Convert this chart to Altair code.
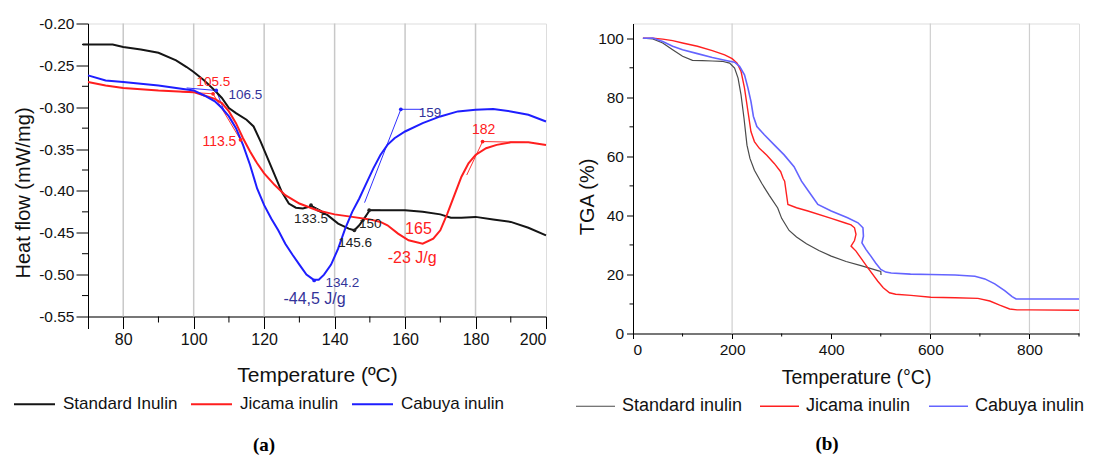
import altair as alt
import pandas as pd

FONT = "Liberation Sans"

# ---------------- Panel (a): DSC ----------------
series_a = ["Standard Inulin", "Jicama inulin", "Cabuya inulin"]
colors_a = ["#151515", "#ff1e1e", "#1e1eff"]

std_a_x = [68.5, 70, 77, 80, 85, 90, 95, 98, 100, 103, 106, 108, 110, 112, 115, 117, 119, 121, 123, 125, 127,
           129, 131, 133.5, 135, 138, 141, 144, 145.6, 147, 149, 150, 153, 160, 165, 170, 173, 176, 180, 185,
           190, 195, 200]
std_a_y = [-0.225, -0.225, -0.225, -0.228, -0.231, -0.235, -0.244, -0.252, -0.258, -0.268, -0.280, -0.289,
           -0.301, -0.307, -0.315, -0.323, -0.341, -0.361, -0.381, -0.401, -0.415, -0.420, -0.421, -0.418,
           -0.423, -0.429, -0.439, -0.445, -0.447, -0.441, -0.429, -0.423, -0.423, -0.423, -0.425, -0.428,
           -0.432, -0.432, -0.431, -0.434, -0.437, -0.444, -0.453]

jic_a_x = [70, 75, 80, 90, 100, 103, 106, 108, 110, 112, 114, 116, 118, 120, 123, 126, 130, 135, 140, 145, 150,
           153, 155, 158, 161, 165, 168, 170, 172, 174, 176, 178, 180, 183, 186, 190, 195, 200]
jic_a_y = [-0.270, -0.274, -0.277, -0.280, -0.282, -0.286, -0.290, -0.295, -0.305, -0.319, -0.337, -0.353,
           -0.367, -0.379, -0.393, -0.405, -0.415, -0.423, -0.428, -0.431, -0.434, -0.437, -0.441, -0.451,
           -0.459, -0.463, -0.457, -0.447, -0.427, -0.405, -0.383, -0.367, -0.357, -0.349, -0.345, -0.342,
           -0.342, -0.345]

cab_a_x = [70, 75, 80, 90, 100, 103, 106, 108, 110, 112, 114, 116, 118, 120, 122, 124, 126, 128, 130, 132, 134,
           135.5, 137, 139, 141, 143, 145, 147, 149, 151, 153, 155, 157, 160, 165, 170, 175, 180, 185, 190, 195,
           200]
cab_a_y = [-0.262, -0.268, -0.270, -0.274, -0.280, -0.286, -0.293, -0.301, -0.311, -0.325, -0.345, -0.369,
           -0.397, -0.417, -0.433, -0.447, -0.463, -0.476, -0.488, -0.500, -0.506, -0.506, -0.500, -0.488,
           -0.469, -0.445, -0.425, -0.409, -0.391, -0.373, -0.357, -0.345, -0.337, -0.329, -0.319, -0.311,
           -0.305, -0.303, -0.302, -0.305, -0.309, -0.317]

# construction (tangent) lines
seg_names = ["r1", "r2", "b1", "b2", "k1", "k2"]
seg_cols = ["#ff3030", "#ff3030", "#3030ff", "#3030ff", "#202020", "#202020"]
seg_x = [[96.5, 105.5, 113.3], [177.5, 182, 194], [98, 106.4, 108.7], [148.5, 158.8, 165],
         [133.3, 136.5], [148.2, 149.8, 153]]
seg_y = [[-0.2815, -0.284, -0.339], [-0.381, -0.341, -0.342], [-0.277, -0.280, -0.305],
         [-0.414, -0.3025, -0.3025], [-0.417, -0.424], [-0.437, -0.423, -0.423]]

mark_x = [105.5, 113.3, 182, 106.4, 134.2, 158.8, 133.3, 149.8, 145.6]
mark_y = [-0.284, -0.339, -0.341, -0.280, -0.507, -0.3025, -0.417, -0.423, -0.447]
mark_c = ["#ff2020", "#ff2020", "#ff2020", "#2020ff", "#2020ff", "#2020ff", "#202020", "#202020", "#202020"]

lab_t = ["105.5", "106.5", "113.5", "159", "182", "133.5", "150", "145.6", "165", "-23 J/g", "134.2", "-44,5 J/g"]
lab_x = [105.6, 114.7, 107.3, 167.1, 182.3, 133.3, 150.1, 145.8, 163.8, 162.0, 142.2, 134.3]
lab_y = [-0.270, -0.285, -0.341, -0.307, -0.327, -0.434, -0.439, -0.462, -0.445, -0.480, -0.510, -0.529]
lab_c = ["#ff2020", "#33339a", "#ff2020", "#33339a", "#ff2020", "#222222", "#222222", "#222222",
         "#ff2020", "#ff2020", "#33339a", "#33339a"]
lab_s = [13.5, 13.5, 14, 13.5, 14, 13.5, 13.5, 13.5, 16, 16, 13.5, 16]

grid_a = [80, 100, 120, 140, 160, 180]
xticks_a = [70, 80, 100, 120, 140, 160, 180, 200]
xminor_a = [90, 110, 130, 150, 170, 190]
yticks_a = [-0.55, -0.50, -0.45, -0.40, -0.35, -0.30, -0.25, -0.20]
yminor_a = [-0.525, -0.475, -0.425, -0.375, -0.325, -0.275, -0.225]

# ---------------- Panel (b): TGA ----------------
series_b = ["Standard inulin", "Jicama inulin", "Cabuya inulin"]
colors_b = ["#4a4a4a", "#ff2020", "#6464ff"]

std_b_x = [20, 40, 60, 80, 100, 120, 140, 160, 180, 195, 205, 212, 218, 224, 230, 236, 245, 260, 275, 292,
           300, 315, 330, 350, 375, 400, 430, 460, 494, 500, 500.5]
std_b_y = [100, 99.8, 98.4, 96.1, 93.9, 92.5, 92.4, 92.3, 92.2, 91.6, 89.9, 86.5, 80.8, 72.9, 63.8, 59.3,
           55.3, 50.8, 46.8, 42.5, 39.0, 34.9, 32.7, 30.4, 28.1, 26.2, 24.4, 23.0, 21.3, 21.0, 19.8]

jic_b_x = [20, 40, 60, 80, 100, 130, 160, 185, 200, 210, 218, 225, 232, 238, 245, 255, 270, 285, 298, 303,
           306, 312.6, 330, 353, 400, 427, 440, 447, 450, 447, 440, 450, 460, 474, 494, 505, 517.6, 530, 561,
           601, 650, 696, 720, 740, 760, 775, 800, 900]
jic_b_y = [100, 100, 99.7, 99.2, 98.4, 97.3, 95.8, 94.4, 93.1, 91.6, 88.8, 83.1, 75.2, 68.4, 65.0, 62.7, 60.4,
           57.6, 54.8, 52.5, 51.6, 43.7, 42.6, 41.5, 39.0, 37.5, 36.8, 35.8, 33.6, 31.5, 29.6, 27.9, 25.5,
           22.2, 17.7, 15.5, 13.8, 13.3, 12.9, 12.3, 12.1, 11.9, 11.0, 9.6, 8.3, 8.0, 8.0, 7.9]

cab_b_x = [20, 40, 60, 80, 100, 130, 160, 190, 205, 215, 225, 232, 238, 243, 250, 265, 285, 305, 325, 340,
           355, 373, 400, 433, 454, 464, 465, 462, 470, 480, 490, 500, 510, 521, 560, 600, 650, 690, 710, 730,
           750, 765, 773, 800, 900]
cab_b_y = [100, 100.1, 98.9, 97.3, 96.1, 94.8, 93.5, 92.4, 91.9, 90.5, 87.6, 83.1, 78.6, 73.5, 70.1, 67.3,
           63.9, 60.5, 56.5, 51.6, 48.0, 43.7, 41.5, 39.2, 37.5, 35.8, 33.0, 30.7, 28.5, 26.2, 23.8, 21.7, 20.8,
           20.5, 20.1, 20.0, 19.8, 19.4, 18.5, 16.8, 14.5, 12.5, 11.7, 11.7, 11.7]

grid_b = [200, 600, 800]
xticks_b = [0, 200, 400, 600, 800]
xminor_b = [100, 300, 500, 700, 900]
yticks_b = [0, 20, 40, 60, 80, 100]
yminor_b = [10, 30, 50, 70, 90]


def long_frame(names, xs_list, ys_list):
    rows = []
    for n, xs, ys in zip(names, xs_list, ys_list):
        for i, (x, y) in enumerate(zip(xs, ys)):
            rows.append({"series": n, "x": x, "y": y, "i": i})
    return pd.DataFrame(rows)


# ================= build panel (a) =================
WA, HA = 458, 293
xs_a = alt.Scale(domain=[70, 200], nice=False, zero=False)
ys_a = alt.Scale(domain=[-0.55, -0.20], nice=False, zero=False)

df_a = long_frame(series_a, [std_a_x, jic_a_x, cab_a_x], [std_a_y, jic_a_y, cab_a_y])

x_axis_a = alt.Axis(values=xticks_a, grid=False, tickSize=12, tickColor="black", domainColor="black",
                    labelExpr="datum.value == 70 ? '' : datum.label",
                    labelFontSize=16, labelFont=FONT, labelColor="#111", labelPadding=3,
                    title="Temperature (ºC)", titleFont=FONT, titleFontSize=21, titleFontWeight="normal",
                    titleColor="#111", titlePadding=17)
y_axis_a = alt.Axis(values=yticks_a, grid=False, tickSize=12, tickColor="black", domainColor="black",
                    labelExpr="replace(format(datum.value, '.2f'), '−', '-')",
                    labelFontSize=15.5, labelFont=FONT, labelColor="#111", labelPadding=2,
                    title="Heat flow (mW/mg)", titleFont=FONT, titleFontSize=20, titleFontWeight="normal",
                    titleColor="#111", titleX=-65, titleY=169, titleAlign="center", titleBaseline="middle",
                    titleAngle=270)

grid_layer_a = alt.Chart(pd.DataFrame({"g": grid_a})).mark_rule(color="#c8c8c8", strokeWidth=1.5).encode(
    x=alt.X("g:Q", scale=xs_a, axis=x_axis_a))

xminor_layer_a = alt.Chart(pd.DataFrame({"m": xminor_a})).mark_rule(color="black", strokeWidth=1).encode(
    x=alt.X("m:Q", scale=xs_a), y=alt.value(HA), y2=alt.value(HA + 6))
yminor_layer_a = alt.Chart(pd.DataFrame({"m": yminor_a})).mark_rule(color="black", strokeWidth=1).encode(
    y=alt.Y("m:Q", scale=ys_a, axis=y_axis_a), x=alt.value(0), x2=alt.value(-6))

lines_a = alt.Chart(df_a).mark_line(strokeWidth=2, clip=False).encode(
    x=alt.X("x:Q", scale=xs_a),
    y=alt.Y("y:Q", scale=ys_a),
    order="i:Q",
    color=alt.Color("series:N", scale=alt.Scale(domain=series_a, range=colors_a),
                    legend=alt.Legend(orient="none", legendX=-75, legendY=359, direction="horizontal",
                                      title=None, symbolType="stroke", symbolSize=1681, symbolStrokeWidth=2,
                                      labelFontSize=17, labelFont=FONT, labelColor="#111", labelOffset=7,
                                      columnPadding=9, labelLimit=300)))

seg_rows = []
for n, c, xs, ys in zip(seg_names, seg_cols, seg_x, seg_y):
    for i, (x, y) in enumerate(zip(xs, ys)):
        seg_rows.append({"seg": n, "c": c, "x": x, "y": y, "i": i})
segs_a = alt.Chart(pd.DataFrame(seg_rows)).mark_line(strokeWidth=1).encode(
    x=alt.X("x:Q", scale=xs_a), y=alt.Y("y:Q", scale=ys_a), detail="seg:N", order="i:Q",
    color=alt.Color("c:N", scale=None, legend=None))

marks_a = alt.Chart(pd.DataFrame({"x": mark_x, "y": mark_y, "c": mark_c})).mark_point(
    filled=True, size=14, opacity=1).encode(
    x=alt.X("x:Q", scale=xs_a), y=alt.Y("y:Q", scale=ys_a),
    color=alt.Color("c:N", scale=None, legend=None))

labels_a = alt.Chart(pd.DataFrame({"t": lab_t, "x": lab_x, "y": lab_y, "c": lab_c, "s": lab_s})).mark_text(
    font=FONT, align="center", baseline="middle").encode(
    x=alt.X("x:Q", scale=xs_a), y=alt.Y("y:Q", scale=ys_a), text="t:N",
    color=alt.Color("c:N", scale=None, legend=None),
    size=alt.Size("s:Q", scale=None, legend=None))

cap_a = alt.Chart(pd.DataFrame({"t": ["(a)"]})).mark_text(
    font="Liberation Serif", fontWeight="bold", fontSize=19, color="black", align="center",
    baseline="middle").encode(text="t:N", x=alt.value(176), y=alt.value(421))

panel_a = alt.layer(grid_layer_a, xminor_layer_a, yminor_layer_a, segs_a, lines_a, marks_a, labels_a,
                    cap_a).resolve_scale(color="independent").properties(width=WA, height=HA)

# ================= build panel (b) =================
WB, HB = 446, 310
xs_b = alt.Scale(domain=[0, 900], nice=False, zero=False)
ys_b = alt.Scale(domain=[0, 105], nice=False, zero=False)

df_b = long_frame(series_b, [std_b_x, jic_b_x, cab_b_x], [std_b_y, jic_b_y, cab_b_y])

x_axis_b = alt.Axis(values=xticks_b, grid=False, tickSize=5, tickColor="black", domainColor="black",
                    labelFontSize=15.5, labelFont=FONT, labelColor="#111", labelPadding=4,
                    title="Temperature (°C)", titleFont=FONT, titleFontSize=19.5, titleFontWeight="normal",
                    titleColor="#111", titlePadding=10)
y_axis_b = alt.Axis(values=yticks_b, grid=False, tickSize=6.5, tickColor="black", domainColor="black",
                    labelFontSize=15.5, labelFont=FONT, labelColor="#111", labelPadding=3,
                    title="TGA (%)", titleFont=FONT, titleFontSize=20, titleFontWeight="normal",
                    titleColor="#111", titleX=-46, titleY=173, titleAlign="center", titleBaseline="middle",
                    titleAngle=270)

grid_layer_b = alt.Chart(pd.DataFrame({"g": grid_b})).mark_rule(color="#cfcfcf", strokeWidth=1.2).encode(
    x=alt.X("g:Q", scale=xs_b, axis=x_axis_b))
xminor_layer_b = alt.Chart(pd.DataFrame({"m": xminor_b})).mark_rule(color="black", strokeWidth=1).encode(
    x=alt.X("m:Q", scale=xs_b), y=alt.value(HB), y2=alt.value(HB + 3))
yminor_layer_b = alt.Chart(pd.DataFrame({"m": yminor_b})).mark_rule(color="black", strokeWidth=1).encode(
    y=alt.Y("m:Q", scale=ys_b, axis=y_axis_b), x=alt.value(0), x2=alt.value(-3.5))

lines_b = alt.Chart(df_b).mark_line(clip=False).encode(
    x=alt.X("x:Q", scale=xs_b),
    y=alt.Y("y:Q", scale=ys_b),
    order="i:Q",
    strokeWidth=alt.StrokeWidth("series:N", scale=alt.Scale(domain=series_b, range=[1.2, 1.6, 1.2]),
                                legend=None),
    color=alt.Color("series:N", scale=alt.Scale(domain=series_b, range=colors_b),
                    legend=alt.Legend(orient="none", legendX=-58, legendY=362, direction="horizontal",
                                      title=None, symbolType="stroke", symbolSize=1521, symbolStrokeWidth=1.6,
                                      labelFontSize=18, labelFont=FONT, labelColor="#111", labelOffset=6,
                                      columnPadding=14, labelLimit=300)))

cap_b = alt.Chart(pd.DataFrame({"t": ["(b)"]})).mark_text(
    font="Liberation Serif", fontWeight="bold", fontSize=19, color="black", align="center",
    baseline="middle").encode(text="t:N", x=alt.value(194), y=alt.value(420))

panel_b = alt.layer(grid_layer_b, xminor_layer_b, yminor_layer_b, lines_b, cap_b).properties(
    width=WB, height=HB)

chart = alt.hconcat(panel_a, panel_b, spacing=23).resolve_scale(
    color="independent", strokeWidth="independent").resolve_legend(color="independent").properties(
    padding={"left": 4, "top": 7.5, "right": 0, "bottom": 0}
).configure_view(stroke="black", strokeWidth=1.2).configure(background="white")

chart.save("out.html", embed_options={"renderer": "svg", "actions": False})
